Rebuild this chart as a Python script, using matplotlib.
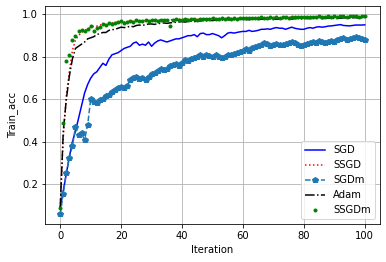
import matplotlib
matplotlib.use("Agg")
import matplotlib.pyplot as plt

iters = list(range(101))

sgd = [0.09, 0.17, 0.25, 0.33, 0.40, 0.45, 0.51, 0.57, 0.63, 0.67,
       0.70, 0.72, 0.73, 0.75, 0.77, 0.76, 0.79, 0.81, 0.815, 0.82,
       0.83, 0.84, 0.845, 0.85, 0.865, 0.87, 0.855, 0.86, 0.855, 0.87,
       0.85, 0.865, 0.875, 0.88, 0.875, 0.87, 0.875, 0.88, 0.885, 0.885,
       0.89, 0.895, 0.90, 0.90, 0.905, 0.895, 0.91, 0.912, 0.905, 0.905,
       0.91, 0.905, 0.90, 0.89, 0.90, 0.912, 0.915, 0.912, 0.915, 0.918,
       0.92, 0.92, 0.925, 0.92, 0.922, 0.925, 0.93, 0.93, 0.932, 0.93,
       0.935, 0.938, 0.935, 0.935, 0.93, 0.935, 0.94, 0.935, 0.932, 0.93,
       0.93, 0.935, 0.938, 0.935, 0.94, 0.942, 0.94, 0.942, 0.945, 0.946,
       0.948, 0.95, 0.952, 0.948, 0.947, 0.946, 0.948, 0.95, 0.95, 0.95, 0.951]

ssgd = [0.09, 0.42, 0.62, 0.73, 0.83, 0.88, 0.90, 0.915, 0.925, 0.93,
        0.94, 0.944, 0.945, 0.95, 0.952, 0.955, 0.958, 0.96, 0.962, 0.963,
        0.965, 0.964, 0.966, 0.968, 0.967, 0.97, 0.968, 0.971, 0.97, 0.972,
        0.971, 0.973, 0.972, 0.974, 0.973, 0.975, 0.974, 0.976, 0.975, 0.977,
        0.976, 0.977, 0.978, 0.977, 0.979, 0.978, 0.979, 0.98, 0.979, 0.98,
        0.981, 0.98, 0.981, 0.982, 0.98, 0.982, 0.981, 0.983, 0.982, 0.983,
        0.982, 0.984, 0.983, 0.982, 0.984, 0.985, 0.983, 0.984, 0.985, 0.984,
        0.986, 0.985, 0.984, 0.986, 0.985, 0.987, 0.986, 0.985, 0.987, 0.986,
        0.987, 0.988, 0.986, 0.987, 0.988, 0.987, 0.989, 0.988, 0.987, 0.989,
        0.988, 0.989, 0.99, 0.988, 0.989, 0.99, 0.989, 0.99, 0.991, 0.99, 0.99]

sgdm = [0.06, 0.155, 0.255, 0.325, 0.38, 0.47, 0.43, 0.44, 0.41, 0.48,
        0.60, 0.59, 0.585, 0.595, 0.60, 0.615, 0.62, 0.635, 0.645, 0.655,
        0.66, 0.655, 0.665, 0.69, 0.70, 0.705, 0.695, 0.70, 0.69, 0.705,
        0.72, 0.725, 0.735, 0.745, 0.74, 0.745, 0.755, 0.76, 0.765, 0.755,
        0.77, 0.785, 0.78, 0.79, 0.795, 0.80, 0.81, 0.80, 0.81, 0.805,
        0.80, 0.81, 0.80, 0.795, 0.80, 0.81, 0.81, 0.815, 0.82, 0.825,
        0.83, 0.835, 0.83, 0.84, 0.845, 0.85, 0.855, 0.865, 0.86, 0.85,
        0.855, 0.86, 0.855, 0.855, 0.86, 0.865, 0.87, 0.865, 0.855, 0.85,
        0.855, 0.86, 0.865, 0.87, 0.865, 0.875, 0.87, 0.865, 0.87, 0.875,
        0.87, 0.88, 0.885, 0.89, 0.88, 0.885, 0.89, 0.895, 0.89, 0.885, 0.88]

adam = [0.09, 0.45, 0.60, 0.71, 0.79, 0.84, 0.85, 0.86, 0.87, 0.885,
        0.89, 0.895, 0.905, 0.91, 0.915, 0.915, 0.925, 0.928, 0.93, 0.935,
        0.94, 0.938, 0.94, 0.945, 0.942, 0.948, 0.95, 0.948, 0.952, 0.955,
        0.955, 0.953, 0.957, 0.958, 0.96, 0.958, 0.96, 0.962, 0.963, 0.965,
        0.966, 0.964, 0.967, 0.968, 0.966, 0.97, 0.969, 0.971, 0.97, 0.972,
        0.971, 0.973, 0.972, 0.974, 0.973, 0.975, 0.974, 0.976, 0.974, 0.975,
        0.977, 0.976, 0.975, 0.977, 0.978, 0.976, 0.977, 0.978, 0.977, 0.979,
        0.978, 0.977, 0.979, 0.978, 0.98, 0.979, 0.978, 0.98, 0.981, 0.979,
        0.98, 0.981, 0.98, 0.982, 0.981, 0.982, 0.98, 0.982, 0.983, 0.982,
        0.981, 0.983, 0.982, 0.984, 0.983, 0.982, 0.984, 0.985, 0.983, 0.984, 0.985]

ssgdm = [0.09, 0.49, 0.78, 0.81, 0.88, 0.90, 0.92, 0.925, 0.92, 0.93,
         0.945, 0.92, 0.935, 0.94, 0.955, 0.95, 0.96, 0.955, 0.96, 0.962,
         0.968, 0.96, 0.965, 0.97, 0.966, 0.972, 0.968, 0.97, 0.974, 0.97,
         0.972, 0.975, 0.971, 0.974, 0.973, 0.976, 0.944, 0.974, 0.977, 0.975,
         0.976, 0.978, 0.974, 0.977, 0.979, 0.976, 0.978, 0.98, 0.977, 0.979,
         0.981, 0.978, 0.98, 0.982, 0.979, 0.981, 0.98, 0.983, 0.98, 0.982,
         0.984, 0.981, 0.983, 0.985, 0.982, 0.984, 0.986, 0.983, 0.985, 0.987,
         0.984, 0.986, 0.985, 0.987, 0.988, 0.985, 0.987, 0.989, 0.986, 0.988,
         0.99, 0.987, 0.989, 0.988, 0.99, 0.991, 0.988, 0.99, 0.992, 0.989,
         0.991, 0.99, 0.992, 0.993, 0.99, 0.992, 0.991, 0.993, 0.99, 0.992, 0.991]

fig = plt.figure(figsize=(386 / 72, 262 / 72), dpi=72)
ax = fig.add_axes([45 / 386, 38 / 262, 335 / 386, 218 / 262])

ax.plot(iters, sgd, "b-", label="SGD")
ax.plot(iters, ssgd, "r:", label="SSGD")
ax.plot(iters, sgdm, "--", marker="p", color="#1f77b4", label="SGDm")
ax.plot(iters, adam, "k-.", label="Adam")
ax.plot(iters, ssgdm, "g.", label="SSGDm")

ax.set_xlabel("Iteration")
ax.set_ylabel("Train_acc")
ax.grid(True)
ax.legend(loc="lower right")

fig.savefig("out.png", dpi=72)
